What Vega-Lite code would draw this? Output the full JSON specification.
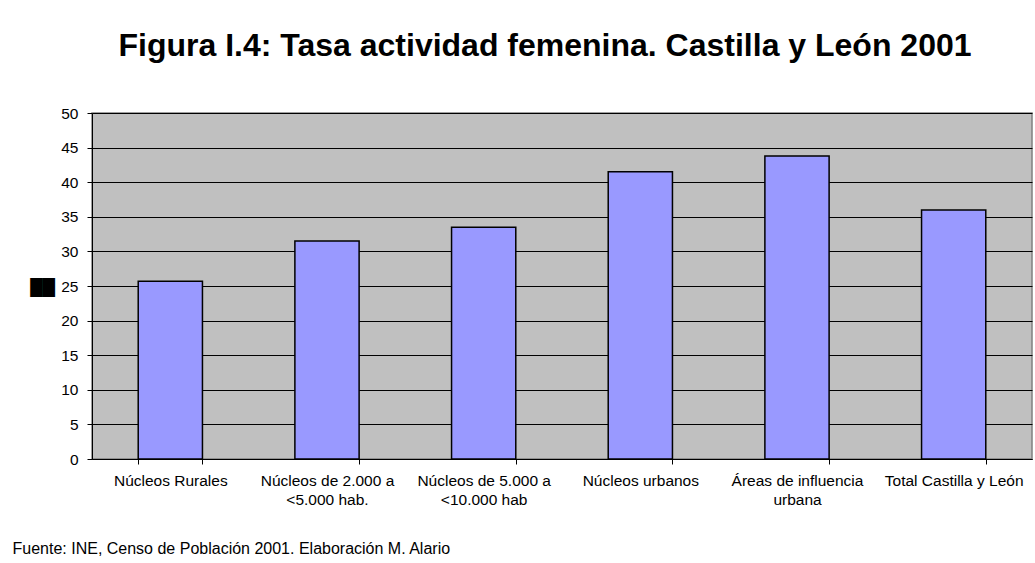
{
  "$schema": "https://vega.github.io/schema/vega-lite/v6.json",
  "autosize": {"type": "none"},
  "padding": {"left": 92, "top": 113, "right": 3, "bottom": 104},
  "width": 940,
  "height": 346,
  "background": "white",
  "title": {
    "text": "Figura I.4: Tasa actividad femenina. Castilla y León 2001",
    "font": "Liberation Sans",
    "fontSize": 32,
    "fontWeight": "bold",
    "color": "black",
    "anchor": "middle",
    "dx": -17,
    "offset": 43
  },
  "data": {
    "values": [
      {"categoria": "Núcleos Rurales", "tasa": 25.7},
      {"categoria": "Núcleos de 2.000 a|<5.000 hab.", "tasa": 31.5},
      {"categoria": "Núcleos de 5.000 a|<10.000 hab", "tasa": 33.5},
      {"categoria": "Núcleos urbanos", "tasa": 41.5},
      {"categoria": "Áreas de influencia|urbana", "tasa": 43.8},
      {"categoria": "Total Castilla y León", "tasa": 36.0}
    ]
  },
  "mark": {"type": "bar", "color": "#9999FF", "stroke": "black", "strokeWidth": 1.5},
  "encoding": {
    "x": {
      "field": "categoria",
      "type": "nominal",
      "sort": null,
      "scale": {"paddingInner": 0.59, "paddingOuter": 0.295},
      "axis": {
        "title": "Fuente: INE, Censo de Población 2001. Elaboración M. Alario",
        "titleFont": "Liberation Sans",
        "titleFontSize": 16,
        "titleFontWeight": "normal",
        "titleColor": "black",
        "titleAnchor": "start",
        "titleAlign": "left",
        "titleBaseline": "middle",
        "titleX": -80,
        "titleY": 89,
        "labelExpr": "split(datum.label, '|')",
        "labelAngle": 0,
        "labelFont": "Liberation Sans",
        "labelFontSize": 15.5,
        "labelColor": "black",
        "labelPadding": 9,
        "labelLineHeight": 19.5,
        "labelLimit": 200,
        "tickBand": "extent",
        "tickSize": 5,
        "tickColor": "black",
        "domainColor": "black",
        "grid": false
      }
    },
    "y": {
      "field": "tasa",
      "type": "quantitative",
      "scale": {"domain": [0, 50], "nice": false},
      "axis": {
        "values": [0, 5, 10, 15, 20, 25, 30, 35, 40, 45, 50],
        "title": "██",
        "titleAngle": 0,
        "titleFont": "DejaVu Sans",
        "titleFontSize": 16,
        "titleColor": "black",
        "titleAlign": "center",
        "titleBaseline": "middle",
        "titleX": -50,
        "titleY": 174,
        "labelFont": "Liberation Sans",
        "labelFontSize": 15.5,
        "labelColor": "black",
        "labelPadding": 9,
        "tickSize": 5,
        "tickColor": "black",
        "domainColor": "black",
        "gridColor": "black",
        "gridOpacity": 1,
        "gridWidth": 1
      }
    }
  },
  "config": {
    "view": {"fill": "#C0C0C0", "stroke": "#808080", "strokeWidth": 1.5}
  }
}
